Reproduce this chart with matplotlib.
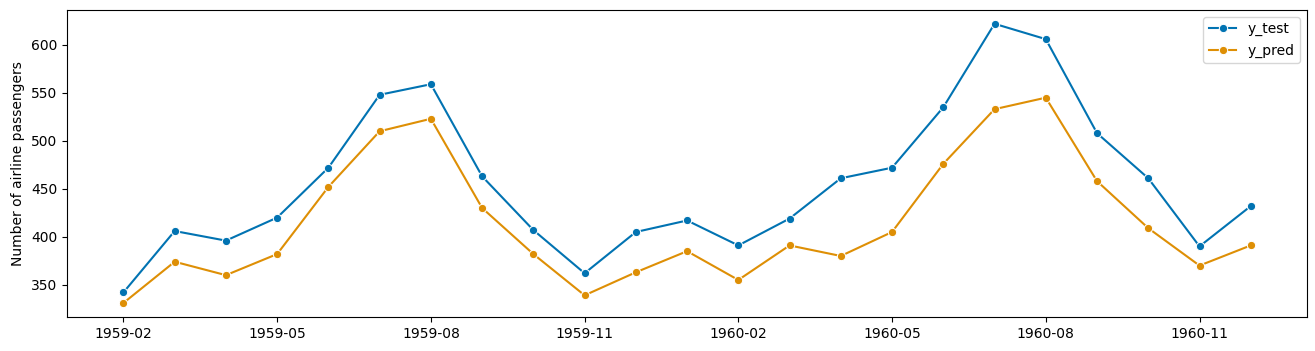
import matplotlib
matplotlib.use("Agg")
import matplotlib.pyplot as plt

# monthly periods shown on the chart
periods = ["1959-02", "1959-03", "1959-04", "1959-05", "1959-06", "1959-07",
           "1959-08", "1959-09", "1959-10", "1959-11", "1959-12", "1960-01",
           "1960-02", "1960-03", "1960-04", "1960-05", "1960-06", "1960-07",
           "1960-08", "1960-09", "1960-10", "1960-11", "1960-12"]

y_test = [342, 406, 396, 420, 472, 548, 559, 463, 407, 362, 405, 417,
          391, 419, 461, 472, 535, 622, 606, 508, 461, 390, 432]

y_pred = [331, 374, 360, 382, 452, 510, 523, 430, 382, 339, 363, 385,
          355, 391, 380, 405, 476, 533, 545, 458, 409, 370, 391]

colors = ["#0173b2", "#de8f05"]

fig = plt.figure(figsize=(13.15, 3.51), dpi=100)
ax = fig.add_axes([0.051, 0.097, 0.943, 0.875])

x = list(range(len(periods)))
for vals, name, c in [(y_test, "y_test", colors[0]), (y_pred, "y_pred", colors[1])]:
    ax.plot(x, vals, color=c, lw=1.5, marker="o", markersize=6,
            markeredgecolor="white", markeredgewidth=0.75, label=name)

tick_pos = x[::3]
ax.set_xticks(tick_pos)
ax.set_xticklabels([periods[i] for i in tick_pos])
ax.set_ylabel("Number of airline passengers")
ax.legend(loc="upper right")

fig.savefig("out.png", dpi=100)
